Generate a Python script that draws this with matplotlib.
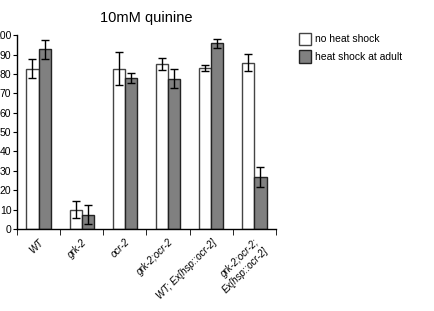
import numpy as np
import matplotlib
matplotlib.use('Agg')
import matplotlib.pyplot as plt
import matplotlib.patches as mpatches

plt.rcParams['font.family'] = ['Liberation Sans', 'DejaVu Sans']

# data
strains = ['WT', 'grk-2', 'ocr-2', 'grk-2;ocr-2', 'WT; Ex[hsp::ocr-2]',
           'grk-2;ocr-2;\nEx[hsp::ocr-2]']
no_hs = [82.7, 10.0, 82.7, 85.1, 83.2, 85.8]
no_hs_err = [5.0, 4.3, 8.5, 3.0, 1.6, 4.3]
hs_adult = [92.6, 7.4, 77.7, 77.6, 95.7, 26.8]
hs_adult_err = [5.0, 4.8, 2.6, 4.9, 2.4, 5.0]

fig = plt.figure(figsize=(4.34, 3.11), dpi=100)
ax = fig.add_axes([0.039, 0.264, 0.597, 0.623])

x = np.arange(len(strains))
w = 0.28
ax.bar(x - w/2, no_hs, w, color='white', edgecolor='#444444', linewidth=1,
       yerr=no_hs_err, capsize=3, error_kw=dict(ecolor='black', elinewidth=1, capthick=1))
ax.bar(x + w/2, hs_adult, w, color='#808080', edgecolor='#222222', linewidth=1,
       yerr=hs_adult_err, capsize=3, error_kw=dict(ecolor='black', elinewidth=1, capthick=1))

ax.set_xlim(-0.5, len(strains) - 0.5)
ax.set_ylim(0, 100)
ax.set_yticks(np.arange(0, 101, 10))
ax.tick_params(axis='y', labelsize=7.5, length=3, direction='out', pad=1)

ax.set_xticks(np.arange(-0.5, len(strains), 1.0), minor=True)
ax.set_xticks(x)
ax.set_xticklabels(strains, rotation=45, ha='right', rotation_mode='anchor',
                   fontsize=7, style='italic', linespacing=1.25)
ax.tick_params(axis='x', which='major', length=0, pad=6)
ax.tick_params(axis='x', which='minor', length=4, direction='out')

for s in ['top', 'right']:
    ax.spines[s].set_visible(False)
for s in ['left', 'bottom']:
    ax.spines[s].set_linewidth(1)

fig.text(0.337, 0.942, '10mM quinine', ha='center', va='center', fontsize=10.5)

handles = [mpatches.Patch(facecolor='white', edgecolor='#444444', label='no heat shock'),
           mpatches.Patch(facecolor='#808080', edgecolor='#222222', label='heat shock at adult')]
fig.legend(handles=handles, loc='upper left', bbox_to_anchor=(0.688, 0.895),
           frameon=False, fontsize=7.5, handlelength=1.2, handleheight=1.5,
           handletextpad=0.4, labelspacing=0.45, borderaxespad=0, borderpad=0)

fig.savefig('out.png', dpi=100)
